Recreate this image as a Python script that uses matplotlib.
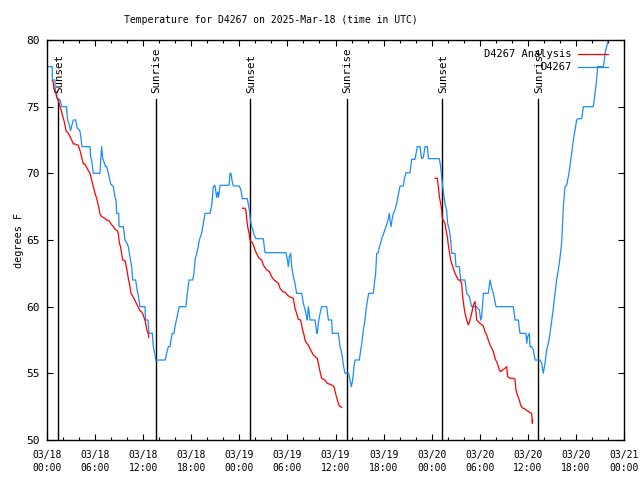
import numpy as np
import matplotlib
matplotlib.use("Agg")
import matplotlib.pyplot as plt

# hours after 2025-03-18 00:00 UTC
obs_hours = [0.0, 0.65, 0.67, 1.0, 1.02, 1.2, 1.25, 1.6, 1.7, 1.83, 2.45, 2.5, 2.58, 2.8, 2.95,
             3.1, 3.29, 3.58, 3.7, 3.78, 4.1, 4.2, 4.37, 5.37, 5.45, 5.57, 5.78, 6.61, 6.7, 6.82,
             6.95, 7.03, 7.3, 7.45, 7.66, 7.95, 8.28, 8.49, 8.61, 8.69, 8.94, 9.0, 9.53, 9.73,
             9.95, 10.15, 10.36, 10.57, 10.69, 11.06, 11.23, 11.4, 11.6, 12.23, 12.3, 12.6, 12.73,
             13.14, 13.27, 13.44, 13.56, 14.76, 14.93, 15.14, 15.35, 15.47, 15.64, 15.85, 15.97,
             16.18, 16.39, 16.51, 17.34, 17.51, 17.72, 18.18, 18.34, 18.47, 18.68, 18.88, 19.0,
             19.3, 19.5, 19.72, 20.34, 20.55, 20.76, 20.96, 21.17, 21.3, 21.4, 21.59, 22.71,
             22.84, 22.96, 23.1, 23.25, 24.0, 24.2, 24.29, 24.38, 25.0, 25.1, 25.25, 25.33, 25.45,
             25.54, 25.7, 25.83, 26.08, 26.99, 27.2, 29.82, 30.0, 30.11, 30.24, 30.41, 30.53,
             30.74, 30.94, 31.15, 31.78, 31.99, 32.19, 32.4, 32.48, 32.61, 32.73, 32.82, 33.44,
             33.57, 33.65, 33.73, 33.86, 34.07, 34.27, 34.9, 35.11, 35.52, 35.6, 36.35, 36.56,
             36.69, 36.85, 36.98, 37.19, 37.64, 37.81, 37.98, 38.14, 38.31, 38.43, 38.98, 39.14,
             39.27, 39.47, 39.68, 39.81, 39.97, 40.14, 40.72, 40.85, 41.01, 41.14, 41.34, 41.47,
             41.64, 41.76, 41.97, 42.14, 42.3, 42.55, 42.72, 42.8, 42.93, 43.05, 43.22, 43.42,
             43.63, 43.84, 44.05, 44.46, 44.59, 44.8, 45.3, 45.5, 45.92, 46.21, 46.54, 46.75,
             46.96, 47.17, 47.46, 47.6, 48.96, 49.12, 49.25, 49.37, 49.54, 49.66, 49.87, 49.99,
             50.2, 50.37, 50.5, 50.91, 51.04, 51.45, 51.62, 52.16, 52.37, 52.7, 52.99, 53.41,
             53.6, 53.95, 54.12, 54.24, 54.45, 55.07, 55.28, 55.49, 55.7, 56.03, 58.19, 58.4,
             58.81, 59.02, 59.77, 59.86, 59.98, 60.19, 60.27, 60.48, 60.69, 60.9, 61.52, 61.73,
             61.93, 62.14, 62.35, 62.56, 62.77, 63.1, 63.39, 63.59, 63.93, 64.22, 64.43, 64.64,
             64.84, 65.13, 65.47, 65.68, 65.89, 66.09, 66.3, 66.72, 66.93, 68.17, 68.38, 68.59,
             68.71, 69.42, 69.55, 69.63, 69.84, 70.04, 70.25]
obs_temps = [78, 78, 77, 77, 76.1, 76.1, 75.7, 75.5, 75.3, 75, 75, 74.5, 74, 73.6, 73.2,
             73.6, 74, 74, 73.6, 73.4, 73.2, 72.8, 72, 72, 71.2, 71, 70, 70, 71, 72,
             71.1, 71, 70.5, 70.5, 70, 69.2, 69, 68.2, 68, 67, 67, 66, 66, 65,
             64.8, 64.5, 63.7, 63, 62, 62, 61.3, 60.8, 60, 60, 59, 59, 58,
             58, 57, 56.5, 56, 56, 56.5, 57, 57, 57.5, 58, 58, 58.5,
             59.1, 59.7, 60, 60, 61, 62, 62, 62.5, 63.5, 64, 64.5, 65,
             65.5, 66.2, 67, 67, 67.6, 69, 69.1, 68.2, 68.6, 68.2, 69.1, 69.1,
             70, 70, 69.4, 69.05, 69.05, 68.75, 68.4, 68.1, 68.1, 67.75, 67.25, 66.75, 66.25,
             66, 65.75, 65.4, 65.1, 65.1, 64.05, 64.05, 63.5, 63, 63.75, 64, 63,
             62.25, 61.75, 61, 61, 60.25, 59.8, 59.25, 59, 60, 59.5, 59, 59,
             58.5, 58, 58, 58.75, 59.5, 60, 60, 59, 59, 58, 58, 57,
             56.75, 56.25, 55.6, 55, 55, 54.5, 54, 54.5, 55.5, 56, 56, 56.75,
             57.2, 58.25, 59, 59.75, 60.4, 61, 61, 61.75, 62.5, 64, 64.05, 64.5,
             64.75, 65.1, 65.4, 65.75, 66, 66.5, 67, 66.5, 66, 66.5, 67, 67.25,
             67.75, 68.4, 69.05, 69.05, 69.6, 70.05, 70.05, 71.05, 71.05, 72, 72, 71.1,
             71.2, 72, 72, 71.1, 71.1, 70.5, 69.75, 69, 68.25, 67.75, 67.25, 66.25,
             65.75, 65, 64, 64, 63, 63, 62, 62, 61, 60.75, 60, 60,
             60, 59.75, 59, 59.25, 61, 61, 62, 61.4, 61, 60, 60, 59,
             59, 58, 58, 57.25, 57.75, 58, 57, 57, 56.75, 56, 56, 55.75,
             55, 55.75, 56.75, 57.25, 58, 59.5, 61, 62, 63.25, 64.75, 67.5, 69,
             69.1, 70, 71.5, 72.5, 73.25, 74, 74.1, 74.1, 75, 75, 76, 77,
             78, 78, 78.5, 79, 79.5, 80, 80.8]

ana1_hours = [0.67, 0.79, 0.87, 1.08, 1.2, 1.41, 1.62, 1.83, 1.96, 2.12, 2.25, 2.37, 2.66, 2.87,
              3.08, 3.29, 3.49, 3.91, 4.12, 4.33, 4.53, 4.74, 4.95, 5.16, 5.37, 5.57, 5.78, 5.99,
              6.2, 6.41, 6.61, 6.82, 7.03, 7.45, 7.74, 7.94, 8.07, 8.28, 8.49, 8.78, 8.9, 9.03,
              9.19, 9.32, 9.44, 9.73, 9.86, 10.02, 10.15, 10.36, 10.48, 10.69, 10.98, 11.19, 11.4,
              11.6, 11.81, 12.02, 12.23, 12.36, 12.44, 12.57, 12.65, 12.69]
ana1_temps = [76.95, 76.8, 76.3, 76.1, 75.7, 75.45, 75, 74.6, 74.3, 73.95, 73.6, 73.2, 73, 72.75,
              72.5, 72.2, 72.2, 72.1, 71.7, 71.2, 70.7, 70.7, 70.45, 70.2, 70, 69.5, 69, 68.5,
              68.1, 67.6, 66.95, 66.75, 66.7, 66.5, 66.45, 66.25, 66.15, 66, 65.8, 65.7, 65.45, 64.8,
              64.45, 63.95, 63.5, 63.45, 63.1, 62.6, 62.1, 61.5, 61, 60.8, 60.45, 60.2, 59.95,
              59.7, 59.6, 59.35, 58.95, 58.6, 58.3, 58.05, 57.95, 57.7]

ana2_hours = [24.41, 24.71, 24.83, 24.91, 25.04, 25.21, 25.33, 25.46, 25.62, 25.83, 26.04, 26.24,
              26.45, 26.79, 26.99, 27.41, 27.74, 28.04, 28.33, 28.58, 28.87, 29.08, 29.41, 29.7,
              29.99, 30.24, 30.74, 30.94, 31.15, 31.36, 31.65, 31.9, 32.07, 32.19, 32.4, 32.61,
              32.9, 33.23, 33.57, 33.73, 33.9, 34.07, 34.27, 34.69, 34.98, 35.52, 35.82, 36.06,
              36.23, 36.48, 36.77]
ana2_temps = [67.38, 67.38, 67.2, 66.63, 66, 65.5, 65, 64.88, 64.8, 64.5, 64.13, 63.88,
              63.63, 63.5, 63.13, 62.75, 62.63, 62.25, 62, 61.88, 61.75, 61.38, 61.13, 61.08,
              60.88, 60.75, 60.63, 59.88, 59.5, 59.05, 59, 58.25, 57.88, 57.5, 57.25, 57.13,
              56.75, 56.38, 56.2, 56.13, 55.63, 55.13, 54.63, 54.5, 54.25, 54.13, 54, 53.38,
              53, 52.55, 52.45]

ana3_hours = [48.42, 48.71, 48.83, 48.96, 49.12, 49.25, 49.33, 49.54, 49.66, 49.79, 49.95, 50.08,
              50.2, 50.37, 50.5, 50.7, 50.91, 51.12, 51.33, 51.53, 51.74, 51.87, 52.03, 52.16,
              52.37, 52.57, 52.78, 52.99, 53.2, 53.41, 53.53, 53.61, 53.82, 54.03, 54.45, 54.65,
              54.86, 55.07, 55.28, 55.49, 55.7, 55.9, 56.19, 56.44, 56.61, 56.86, 57.15, 57.36,
              57.48, 57.77, 58.19, 58.4, 58.52, 58.69, 58.94, 59.1, 59.35, 59.52, 59.77, 59.94,
              60.27, 60.48, 60.56, 60.6]
ana3_temps = [69.63, 69.63, 69, 68.25, 67.75, 67.25, 66.63, 66.38, 66.25, 65.75, 65.25, 64.63,
              64.13, 63.5, 63.25, 62.88, 62.5, 62.25, 62, 62, 61.75, 60.75, 60, 59.5,
              59, 58.63, 59, 59.5, 60.13, 60.38, 59.63, 59, 58.88, 58.75, 58.55, 58.13,
              57.88, 57.5, 57.13, 56.88, 56.63, 56.13, 55.75, 55.25, 55.13, 55.25, 55.38, 55.5,
              54.75, 54.63, 54.63, 54.55, 53.75, 53.38, 53, 52.63, 52.38, 52.38, 52.25, 52.2,
              52.05, 52, 51.25, 51.5]

sun_hours = [1.42, 13.55, 25.37, 37.38, 49.33, 61.3]
sun_labels = ['Sunset', 'Sunrise', 'Sunset', 'Sunrise', 'Sunset', 'Sunrise']

tick_hours = list(range(0, 73, 6))
tick_labels = ['03/18\n00:00', '03/18\n06:00', '03/18\n12:00', '03/18\n18:00',
               '03/19\n00:00', '03/19\n06:00', '03/19\n12:00', '03/19\n18:00',
               '03/20\n00:00', '03/20\n06:00', '03/20\n12:00', '03/20\n18:00',
               '03/21\n00:00']

plt.rcParams['font.family'] = ['DejaVu Sans Mono']
fs = 7
blue = '#1a8cff'
red = '#ff0000'

fig = plt.figure(figsize=(6.4, 4.8), dpi=100)
ax = fig.add_axes([47 / 640, 40 / 480, 577 / 640, 400 / 480])

for h, lab in zip(sun_hours, sun_labels):
    ax.plot([h, h], [50, 75.6], color='black', lw=1.0, zorder=1)
    ax.text(h + 0.1, 76.0, lab, rotation=90, ha='center', va='bottom', fontsize=fs + 0.8)

ax.plot(ana1_hours, ana1_temps, color=red, lw=0.9, label='D4267 Analysis', zorder=3)
ax.plot(ana2_hours, ana2_temps, color=red, lw=0.9, zorder=3)
ax.plot(ana3_hours, ana3_temps, color=red, lw=0.9, zorder=3)
ax.plot(obs_hours, obs_temps, color=blue, lw=0.9, label='D4267', zorder=2)

ax.set_xlim(0, 72)
ax.set_ylim(50, 80)
ax.set_xticks(tick_hours)
ax.set_xticklabels(tick_labels, fontsize=fs, linespacing=1.45)
ax.set_xticks(np.arange(0, 73, 2), minor=True)
ax.set_yticks(range(50, 81, 5))
ax.tick_params(axis='y', labelsize=fs + 1, pad=5)
ax.tick_params(axis='x', pad=7)
ax.tick_params(which='both', direction='in', top=True, right=True, width=0.8)
ax.tick_params(which='major', length=4)
ax.tick_params(which='minor', length=2.5)
for s in ax.spines.values():
    s.set_linewidth(1.0)

ax.set_ylabel('degrees F', fontsize=fs + 0.3, labelpad=2)
fig.text(271 / 640, 1 - 20 / 480, 'Temperature for D4267 on 2025-Mar-18 (time in UTC)',
         fontsize=fs, ha='center', va='center')

ax.legend(loc='upper right', bbox_to_anchor=(0.985, 0.995), frameon=False, markerfirst=False,
          fontsize=fs + 0.5, handlelength=2.9, labelspacing=0.3, borderpad=0.2, handletextpad=0.6)

fig.savefig('out.png', dpi=100)
